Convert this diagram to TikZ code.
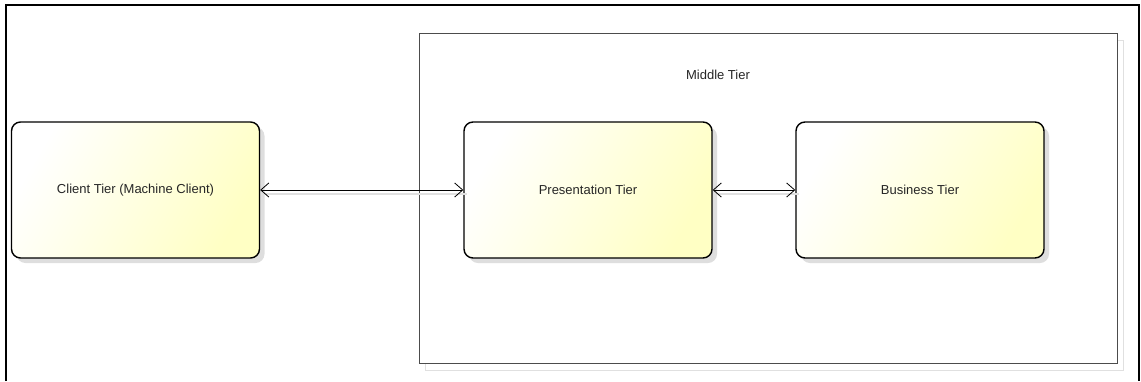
\documentclass[tikz,border=0pt]{standalone}
\usepackage{fontspec}
\setmainfont{Liberation Sans}
\usetikzlibrary{arrows.meta,positioning,shadows}
\definecolor{tieryellow}{HTML}{FFFFC4}
\tikzset{
  tier/.style={rectangle, rounded corners=9pt, draw, line width=1.4pt,
    minimum width=248pt, minimum height=136pt,
    left color=white, right color=tieryellow, shading angle=60,
    general shadow={fill=black!13, shadow xshift=5pt, shadow yshift=-5pt},
    font=\fontsize{13}{15}\selectfont, text=black!85},
  link/.style={{Straight Barb[length=8pt,width=14pt]}-{Straight Barb[length=8pt,width=14pt]}, line width=0.8pt},
  linkshadow/.style={black!12, line width=1.2pt, transform canvas={xshift=4pt,yshift=-4pt}}
}
\begin{document}
\begin{tikzpicture}[x=1pt,y=-1pt]
\useasboundingbox (0,0) rectangle (1141,381);
% frame
\draw[line width=2pt] (6,381) -- (6,5) -- (1139,5) -- (1139,381);
% middle tier container
\node[rectangle, draw=black!12, line width=1pt, minimum width=698pt, minimum height=330pt] (middleshadow) at (774,205) {};
\node[rectangle, draw=black!70, fill=white, line width=1pt, minimum width=698pt, minimum height=330pt] (middle) at (768,198) {};
\node[font=\fontsize{13}{15}\selectfont, text=black!85] (middlelabel) at (718,75) {Middle Tier};
% tiers
\node[tier] (client) at (135.5,190) {Client Tier (Machine Client)};
\node[tier] (presentation) at (588,190) {Presentation Tier};
\node[tier] (business) at (920,190) {Business Tier};
% connectors
\draw[linkshadow] (client.east) -- (presentation.west);
\draw[linkshadow] (presentation.east) -- (business.west);
\draw[link] (client.east) -- (presentation.west); % client <-> presentation
\draw[link] (presentation.east) -- (business.west); % presentation <-> business
\end{tikzpicture}
\end{document}
